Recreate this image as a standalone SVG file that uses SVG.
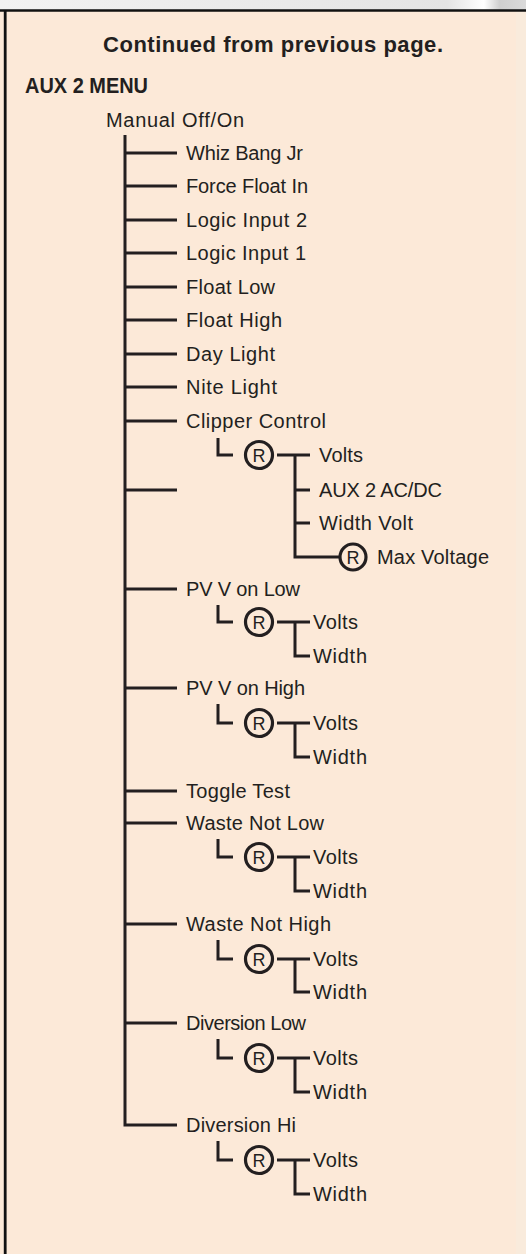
<svg xmlns="http://www.w3.org/2000/svg" width="526" height="1254" viewBox="0 0 526 1254">
<style>
.t{font-family:"Liberation Sans",Arial,sans-serif;font-size:20px;fill:#231f20}
.b{font-weight:bold}
.c{fill:none;stroke:#231f20;stroke-width:3}
.rc{fill:none;stroke:#231f20;stroke-width:3.2}
.rl{font-family:"Liberation Sans",Arial,sans-serif;font-size:18px;fill:#231f20;text-anchor:middle}
</style>
<defs>
<linearGradient id="top" x1="0" x2="1" y1="0" y2="0">
<stop offset="0" stop-color="#f2f2f2"/>
<stop offset="0.85" stop-color="#e4e4e4"/>
<stop offset="0.92" stop-color="#ffffff"/>
<stop offset="0.95" stop-color="#cfcfcf"/>
<stop offset="1" stop-color="#dadada"/>
</linearGradient>
</defs>
<rect x="0" y="0" width="526" height="1254" fill="#fce9d8"/>
<rect x="0" y="0" width="526" height="10" fill="url(#top)"/>
<rect x="516" y="11" width="10" height="1243" fill="#f9ebdc"/>
<line x1="0" y1="10.5" x2="526" y2="10.5" stroke="#111" stroke-width="2.5"/>
<line x1="5.2" y1="10" x2="5.2" y2="1254" stroke="#111" stroke-width="2.8"/>

<g id="title">
<text class="t b" x="103" y="52" style="font-size:22px" textLength="340" lengthAdjust="spacing">Continued from previous page.</text>
<text class="t b" x="25" y="93" style="font-size:22px" textLength="123" lengthAdjust="spacingAndGlyphs">AUX 2 MENU</text>
</g>

<g id="connectors">
<path class="c" d="M125 135V1125H177"/>
<path class="c" d="M125 153H177M125 186H177M125 220H177M125 253H177M125 287H177M125 320H177M125 354H177M125 387H177M125 421H177M125 490H177M125 589H177M125 688H177M125 791H177M125 823H177M125 924H177M125 1023H177"/>
<path class="c" d="M218 438V455H233M277 455H310M295 455V557H340M295 490H310M295 523H310"/>
<path class="c" d="M218 605V622H233M277 622H310M295 622V656H310"/>
<path class="c" d="M218 704V723H233M277 723H310M295 723V757H310"/>
<path class="c" d="M218 839V857H233M277 857H310M295 857V891H310"/>
<path class="c" d="M218 940V959H233M277 959H310M295 959V992H310"/>
<path class="c" d="M218 1039V1058H233M277 1058H310M295 1058V1092H310"/>
<path class="c" d="M218 1141V1160H233M277 1160H310M295 1160V1194H310"/>
</g>

<g id="manual"><text class="t" x="106" y="127" textLength="138" lengthAdjust="spacing">Manual Off/On</text></g>
<g id="whiz"><text class="t" x="186" y="160" textLength="117" lengthAdjust="spacing">Whiz Bang Jr</text></g>
<g id="forcefloat"><text class="t" x="186" y="193" textLength="122" lengthAdjust="spacing">Force Float In</text></g>
<g id="logic2"><text class="t" x="186" y="227" textLength="121" lengthAdjust="spacing">Logic Input 2</text></g>
<g id="logic1"><text class="t" x="186" y="260" textLength="120" lengthAdjust="spacing">Logic Input 1</text></g>
<g id="floatlow"><text class="t" x="186" y="294" textLength="89" lengthAdjust="spacing">Float Low</text></g>
<g id="floathigh"><text class="t" x="186" y="327" textLength="96" lengthAdjust="spacing">Float High</text></g>
<g id="daylight"><text class="t" x="186" y="361" textLength="89" lengthAdjust="spacing">Day Light</text></g>
<g id="nitelight"><text class="t" x="186" y="394" textLength="91" lengthAdjust="spacing">Nite Light</text></g>
<g id="clipper"><text class="t" x="186" y="428" textLength="140" lengthAdjust="spacing">Clipper Control</text></g>
<g id="clipper-r"><circle class="rc" cx="259" cy="455" r="13.5"/><text class="rl" x="259" y="461.5">R</text></g>
<g id="clipper-volts"><text class="t" x="319" y="462" textLength="44" lengthAdjust="spacing">Volts</text></g>
<g id="clipper-acdc"><text class="t" x="319" y="497" textLength="123" lengthAdjust="spacing">AUX 2 AC/DC</text></g>
<g id="clipper-width"><text class="t" x="319" y="530" textLength="94" lengthAdjust="spacing">Width Volt</text></g>
<g id="clipper-r2"><circle class="rc" cx="353" cy="557" r="13"/><text class="rl" x="353" y="563.5">R</text></g>
<g id="clipper-max"><text class="t" x="377" y="564" textLength="112" lengthAdjust="spacing">Max Voltage</text></g>

<g id="pvlow"><text class="t" x="186" y="596" textLength="114" lengthAdjust="spacing">PV V on Low</text></g>
<g id="pvlow-r"><circle class="rc" cx="259" cy="622" r="13.5"/><text class="rl" x="259" y="628.5">R</text></g>
<g id="pvlow-volts"><text class="t" x="313" y="629" textLength="45" lengthAdjust="spacing">Volts</text></g>
<g id="pvlow-width"><text class="t" x="313" y="663" textLength="54" lengthAdjust="spacing">Width</text></g>

<g id="pvhigh"><text class="t" x="186" y="695" textLength="119" lengthAdjust="spacing">PV V on High</text></g>
<g id="pvhigh-r"><circle class="rc" cx="259" cy="723" r="13.5"/><text class="rl" x="259" y="729.5">R</text></g>
<g id="pvhigh-volts"><text class="t" x="313" y="730" textLength="45" lengthAdjust="spacing">Volts</text></g>
<g id="pvhigh-width"><text class="t" x="313" y="764" textLength="54" lengthAdjust="spacing">Width</text></g>

<g id="toggle"><text class="t" x="186" y="798" textLength="104" lengthAdjust="spacing">Toggle Test</text></g>

<g id="wastelow"><text class="t" x="186" y="830" textLength="138" lengthAdjust="spacing">Waste Not Low</text></g>
<g id="wastelow-r"><circle class="rc" cx="259" cy="857" r="13.5"/><text class="rl" x="259" y="863.5">R</text></g>
<g id="wastelow-volts"><text class="t" x="313" y="864" textLength="45" lengthAdjust="spacing">Volts</text></g>
<g id="wastelow-width"><text class="t" x="313" y="898" textLength="54" lengthAdjust="spacing">Width</text></g>

<g id="wastehigh"><text class="t" x="186" y="931" textLength="145" lengthAdjust="spacing">Waste Not High</text></g>
<g id="wastehigh-r"><circle class="rc" cx="259" cy="959" r="13.5"/><text class="rl" x="259" y="965.5">R</text></g>
<g id="wastehigh-volts"><text class="t" x="313" y="966" textLength="45" lengthAdjust="spacing">Volts</text></g>
<g id="wastehigh-width"><text class="t" x="313" y="999" textLength="54" lengthAdjust="spacing">Width</text></g>

<g id="divlow"><text class="t" x="186" y="1030" textLength="120" lengthAdjust="spacing">Diversion Low</text></g>
<g id="divlow-r"><circle class="rc" cx="259" cy="1058" r="13.5"/><text class="rl" x="259" y="1064.5">R</text></g>
<g id="divlow-volts"><text class="t" x="313" y="1065" textLength="45" lengthAdjust="spacing">Volts</text></g>
<g id="divlow-width"><text class="t" x="313" y="1099" textLength="54" lengthAdjust="spacing">Width</text></g>

<g id="divhi"><text class="t" x="186" y="1132" textLength="110" lengthAdjust="spacing">Diversion Hi</text></g>
<g id="divhi-r"><circle class="rc" cx="259" cy="1160" r="13.5"/><text class="rl" x="259" y="1166.5">R</text></g>
<g id="divhi-volts"><text class="t" x="313" y="1167" textLength="45" lengthAdjust="spacing">Volts</text></g>
<g id="divhi-width"><text class="t" x="313" y="1201" textLength="54" lengthAdjust="spacing">Width</text></g>
</svg>
